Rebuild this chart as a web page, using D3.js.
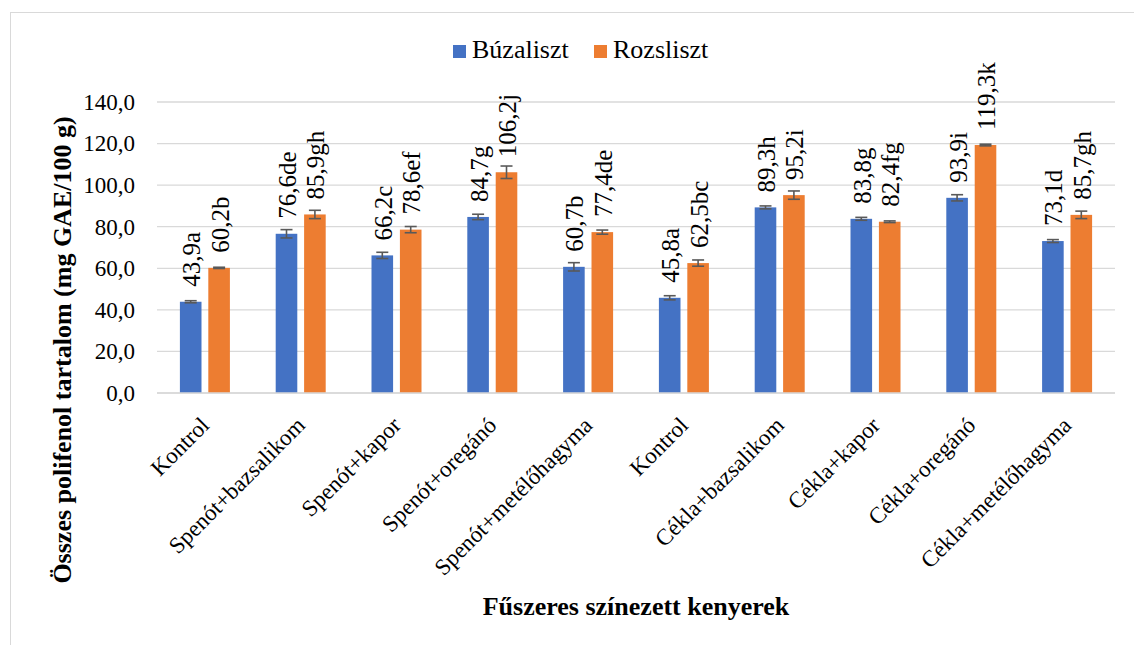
<!DOCTYPE html>
<html lang="hu">
<head>
<meta charset="UTF-8">
<title>Összes polifenol tartalom</title>
<script src="https://d3js.org/d3.v7.min.js"></script>
<style>
  body { margin: 0; background: #fff; }
  svg text { font-family: "Liberation Serif", "Times New Roman", serif; fill: #000; }
</style>
</head>
<body>
<script>
// categories (two "Kontrol" groups, so index is used as key)
const categories = ["Kontrol", "Spenót+bazsalikom", "Spenót+kapor", "Spenót+oregánó", "Spenót+metélőhagyma",
                    "Kontrol", "Cékla+bazsalikom", "Cékla+kapor", "Cékla+oregánó", "Cékla+metélőhagyma"]
const seriesNames = ["Búzaliszt", "Rozsliszt"]
const buza = [43.9, 76.6, 66.2, 84.7, 60.7, 45.8, 89.3, 83.8, 93.9, 73.1]
const rozs = [60.2, 85.9, 78.6, 106.2, 77.4, 62.5, 95.2, 82.4, 119.3, 85.7]
const buzaErr = [0.5, 2.0, 1.5, 1.3, 2.0, 1.0, 0.7, 0.7, 1.5, 0.7]
const rozsErr = [0.3, 2.0, 1.5, 3.0, 1.0, 1.5, 2.0, 0.4, 0.4, 1.8]
const buzaLetters = ["a", "de", "c", "g", "b", "a", "h", "g", "i", "d"]
const rozsLetters = ["b", "gh", "ef", "j", "de", "bc", "i", "fg", "k", "gh"]
const yTicks = [0, 20, 40, 60, 80, 100, 120, 140]
const colors = ["#4472C4", "#ED7D31"]

const width = 1134, height = 645
const margin = { left: 157, right: 1134 - 1115, top: 102, bottom: 645 - 393 }
const serif = "'Liberation Serif', 'Times New Roman', serif"

const svg = d3.select("body").append("svg")
    .attr("width", width)
    .attr("height", height)

// outer frame
svg.append("rect")
    .attr("x", 10.5).attr("y", 12.5)
    .attr("width", width + 10).attr("height", height + 10)
    .attr("fill", "none").attr("stroke", "#d9d9d9")

const x = d3.scaleBand()
    .domain(d3.range(categories.length))
    .range([margin.left, width - margin.right])

const inner = d3.scaleBand()
    .domain([0, 1])
    .range([-25, 25])
    .paddingInner(0.24)

const y = d3.scaleLinear()
    .domain([0, 140])
    .range([height - margin.bottom, margin.top])

// gridlines
svg.append("g")
    .selectAll("line")
    .data(yTicks)
    .join("line")
    .attr("x1", margin.left).attr("x2", width - margin.right)
    .attr("y1", d => y(d)).attr("y2", d => y(d))
    .attr("stroke", "#d9d9d9").attr("stroke-width", 1.3)

// y axis labels
const yAxis = d3.axisLeft(y).tickValues(yTicks).tickSize(0).tickPadding(22)
    .tickFormat(d => d3.format(".1f")(d).replace(".", ","))
const ya = svg.append("g")
    .attr("transform", "translate(" + margin.left + ",0)")
    .call(yAxis)
ya.select(".domain").remove()
ya.selectAll("text")
    .attr("dy", "0.32em")
    .style("font-size", "23px").style("font-family", serif).style("fill", "#000")

const series = [
    { vals: buza, err: buzaErr, letters: buzaLetters },
    { vals: rozs, err: rozsErr, letters: rozsLetters }
]

series.forEach((s, si) => {
    const g = svg.append("g")
    const rows = categories.map((c, i) => ({ i: i, v: s.vals[i], e: s.err[i], l: s.letters[i] }))
    const bx = d => x(d.i) + x.bandwidth() / 2 + inner(si)
    const cx = d => bx(d) + inner.bandwidth() / 2

    g.selectAll("rect")
        .data(rows)
        .join("rect")
        .attr("x", bx)
        .attr("width", inner.bandwidth())
        .attr("y", d => y(d.v))
        .attr("height", d => y(0) - y(d.v))
        .attr("fill", colors[si])

    // error bars
    const eg = g.selectAll("g.err")
        .data(rows)
        .join("g")
        .attr("class", "err")
        .attr("stroke", "#595959")
        .attr("stroke-width", 1.6)
    eg.append("line")
        .attr("x1", cx).attr("x2", cx)
        .attr("y1", d => y(d.v - d.e)).attr("y2", d => y(d.v + d.e))
    eg.append("line")
        .attr("x1", d => cx(d) - 6).attr("x2", d => cx(d) + 6)
        .attr("y1", d => y(d.v + d.e)).attr("y2", d => y(d.v + d.e))
    eg.append("line")
        .attr("x1", d => cx(d) - 6).attr("x2", d => cx(d) + 6)
        .attr("y1", d => y(d.v - d.e)).attr("y2", d => y(d.v - d.e))

    // data labels
    g.selectAll("text")
        .data(rows)
        .join("text")
        .attr("transform", d => "translate(" + (cx(d) + 9.5) + "," + (y(d.v) - 15) + ") rotate(-90)")
        .style("font-size", "25px")
        .text(d => d3.format(".1f")(d.v).replace(".", ",") + d.l)
})

// baseline
svg.append("line")
    .attr("x1", margin.left).attr("x2", width - margin.right)
    .attr("y1", y(0)).attr("y2", y(0))
    .attr("stroke", "#d9d9d9").attr("stroke-width", 1.3)

// x category labels
svg.append("g")
    .selectAll("text")
    .data(categories)
    .join("text")
    .attr("transform", (d, i) => "translate(" + (x(i) + x.bandwidth() / 2) + "," + (y(0) + 28) + ") rotate(-45)")
    .attr("text-anchor", "end")
    .attr("dy", "0.35em")
    .style("font-size", "23px")
    .text(d => d)

// axis titles
svg.append("text")
    .attr("transform", "translate(71,350) rotate(-90)")
    .attr("text-anchor", "middle")
    .style("font-size", "26px").style("font-weight", "bold")
    .text("Összes polifenol tartalom (mg GAE/100 g)")

svg.append("text")
    .attr("x", 636).attr("y", 615)
    .attr("text-anchor", "middle")
    .style("font-size", "26px").style("font-weight", "bold")
    .text("Fűszeres színezett kenyerek")

// legend
const legend = svg.append("g")
const legX = [453, 594]
seriesNames.forEach((n, i) => {
    legend.append("rect")
        .attr("x", legX[i]).attr("y", 45)
        .attr("width", 13).attr("height", 13)
        .attr("fill", colors[i])
    legend.append("text")
        .attr("x", legX[i] + 19).attr("y", 58)
        .style("font-size", "26px")
        .text(n)
})
</script>
</body>
</html>
